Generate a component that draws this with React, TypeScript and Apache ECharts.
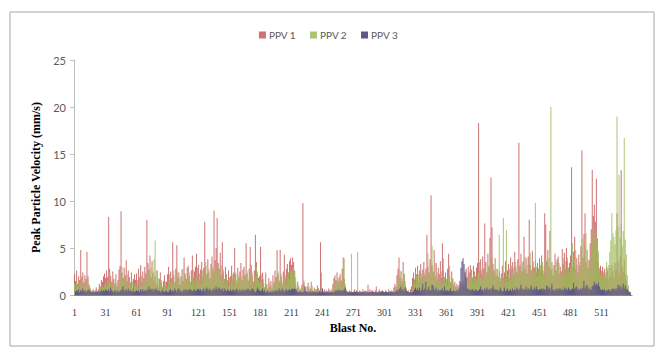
import React, { useEffect, useRef } from "react";
import * as echarts from "echarts";

const seriesNames = ["PPV 1", "PPV 2", "PPV 3"];
const yTicks = { min: 0, max: 25, interval: 5 };
const blastCount = 540;

// PPV 1 (mm/s), blasts 1..540, 30 per row
const ppv1 = [
  1.8,2.2,1.5,2.6,1.2,2.0,1.6,4.8,1.9,2.4,1.3,2.1,1.7,4.6,2.0,1.1,0.8,0.5,0.4,0.6,0.3,0.5,0.8,0.4,0.6,1.2,0.9,1.6,1.4,2.0,
  2.3,1.8,2.6,1.9,8.3,2.8,2.0,1.4,2.5,1.7,1.2,2.2,0.9,1.6,2.7,3.1,8.9,2.4,1.8,2.9,2.1,3.7,1.5,2.6,1.9,1.3,2.4,0.8,1.7,2.2,
  1.6,2.3,1.1,2.8,1.9,3.2,1.4,2.5,1.8,3.0,2.2,8.0,3.4,2.7,4.2,1.9,3.6,2.3,1.5,2.0,1.2,2.6,0.9,1.7,2.4,1.3,0.8,1.5,2.1,1.0,
  1.4,2.2,3.0,1.6,2.5,1.8,5.6,2.1,1.3,2.8,5.3,1.9,2.4,1.1,2.0,2.7,1.5,4.0,2.3,1.7,2.9,3.1,2.0,1.4,2.6,4.2,1.8,2.5,3.0,4.4,
  2.1,3.2,1.6,2.7,3.5,2.0,2.9,7.8,3.1,2.2,3.8,2.5,1.8,3.3,4.1,2.6,9.0,3.7,5.0,8.2,3.4,2.8,4.5,2.1,5.6,2.4,1.7,3.0,2.2,1.5,
  2.6,1.4,2.0,3.1,1.7,2.4,5.0,2.2,1.3,2.9,1.8,2.5,3.4,1.6,2.7,3.0,2.1,5.5,2.3,1.5,2.8,5.1,3.2,2.0,1.4,2.6,6.4,3.5,2.2,1.8,
  2.0,5.1,1.6,2.4,1.2,0.8,2.4,1.1,0.6,1.8,0.9,1.5,0.7,2.1,1.3,2.6,1.9,4.8,2.2,1.4,4.8,2.0,1.1,2.5,4.3,1.7,2.8,3.3,2.4,3.6,
  3.9,3.2,4.0,3.5,2.6,1.2,0.6,1.4,0.8,0.5,0.7,1.1,9.8,1.3,0.6,0.4,0.9,1.3,0.5,0.7,1.4,0.6,0.4,0.8,0.5,0.6,1.0,0.7,0.5,5.6,
  0.8,0.5,0.4,0.6,0.3,0.5,0.4,0.7,0.5,0.4,0.6,1.2,1.8,2.1,1.6,2.4,1.4,1.9,2.2,1.5,2.8,4.0,1.7,0.9,0.5,0.4,0.3,0.5,0.4,0.3,
  0.3,0.4,0.6,0.3,0.5,0.4,0.3,0.5,0.4,0.3,0.6,0.4,0.3,0.5,0.4,1.1,0.4,0.6,0.3,0.5,0.4,0.3,0.5,0.9,0.3,0.4,0.6,0.3,0.4,0.5,
  0.4,0.3,0.5,0.4,0.3,0.6,0.4,0.3,0.5,0.4,0.8,1.2,0.9,2.1,2.8,4.0,1.8,2.5,1.4,3.5,2.2,1.1,0.6,0.4,0.5,0.3,0.6,0.9,1.8,2.4,
  1.6,2.9,2.2,3.1,1.4,2.6,3.3,1.9,2.7,3.5,2.1,2.8,6.4,3.0,2.4,3.8,10.6,3.2,2.5,4.8,2.0,3.4,1.7,2.9,2.2,3.6,1.8,5.5,2.6,1.9,
  2.4,1.5,2.8,4.4,2.0,1.3,2.5,1.7,1.0,1.4,0.8,1.2,0.9,1.1,0.7,1.3,0.9,1.5,1.0,2.2,2.8,1.9,3.0,2.4,3.2,2.7,1.8,3.1,2.5,2.0,
  2.9,3.4,18.3,2.6,3.8,2.2,4.1,2.8,7.6,3.5,2.4,4.4,3.0,6.1,12.5,7.2,3.3,2.6,3.9,2.1,2.8,1.9,2.6,1.5,2.3,3.1,1.8,2.4,3.6,2.0,
  2.6,3.3,1.9,4.0,2.7,3.5,2.2,4.6,3.0,2.4,3.8,16.2,3.1,4.4,2.5,3.6,6.2,2.8,3.9,2.3,4.1,8.0,3.2,2.6,4.7,3.0,2.9,3.7,2.4,3.4,
  2.8,3.9,2.5,4.2,3.1,2.2,8.7,7.5,3.6,4.8,3.0,6.8,2.7,3.5,2.1,3.2,4.4,2.6,3.8,4.1,2.3,3.0,2.5,4.9,3.3,4.5,2.7,5.0,3.6,2.9,
  3.4,4.2,13.6,3.0,4.6,6.2,2.8,3.9,2.4,4.3,3.1,5.2,15.4,4.0,6.5,8.7,3.5,4.8,2.9,3.7,5.5,7.0,13.3,8.4,9.6,7.8,12.4,6.0,3.5,2.6,
  3.1,2.4,3.0,2.2,2.8,1.9,3.0,2.5,1.7,2.9,2.0,3.2,2.6,1.8,3.4,2.7,8.7,3.6,2.3,4.1,13.3,3.0,2.5,3.8,2.2,1.5,0.8,0.5,0,0,
];

// PPV 2 (mm/s)
const ppv2 = [
  1.2,0.8,1.5,0.9,1.1,0.7,1.3,2.0,0.9,1.4,0.6,1.0,0.8,1.7,1.1,0.5,0.4,0.3,0.4,0.3,0.5,0.4,0.3,0.6,0.4,0.7,0.5,0.9,0.8,1.1,
  1.4,0.9,1.6,1.2,2.4,1.5,1.0,0.8,1.7,1.1,0.7,1.3,0.6,1.0,1.8,2.0,3.0,1.4,1.1,1.9,1.3,2.2,0.9,1.6,1.2,0.8,1.5,0.5,1.0,1.3,
  1.0,1.6,0.7,1.9,1.2,2.1,0.9,1.7,1.2,2.4,1.5,3.2,2.2,1.8,2.9,1.3,2.5,3.8,5.8,2.6,1.1,1.8,0.6,1.2,1.6,0.9,0.5,1.0,1.4,0.7,
  0.9,1.5,2.2,1.1,1.8,1.2,2.6,1.4,0.9,2.0,2.5,1.3,1.7,0.8,1.4,2.8,1.0,2.2,1.6,1.2,2.1,2.4,1.4,1.0,1.8,2.7,1.3,1.7,2.2,2.9,
  1.5,2.3,1.1,1.9,2.6,1.4,2.0,3.5,2.2,1.6,2.8,1.8,1.2,2.4,3.0,1.9,3.2,2.6,2.1,3.0,2.4,2.0,3.2,1.5,2.7,1.7,1.2,2.1,1.6,1.0,
  1.9,1.0,1.4,2.2,1.2,1.7,2.4,1.6,0.9,2.1,1.3,1.8,2.0,1.1,1.9,2.2,1.5,2.6,1.7,1.1,2.0,2.3,2.4,1.4,1.0,1.9,3.0,2.5,1.6,1.3,
  1.4,2.2,1.1,1.7,0.8,0.6,1.2,0.7,0.4,1.3,0.6,1.1,0.5,1.5,0.9,1.9,1.4,2.5,1.6,1.0,2.3,1.4,0.8,1.8,2.1,1.2,2.0,2.4,1.7,2.6,
  2.8,2.3,2.9,2.5,1.9,0.8,0.4,1.0,0.5,0.3,0.5,0.8,1.6,0.9,0.4,0.3,0.6,0.9,0.3,0.5,1.0,0.4,0.3,0.6,0.3,0.4,0.7,0.5,0.3,2.4,
  0.5,0.3,0.3,0.4,0.2,0.3,0.3,0.5,0.3,0.3,0.4,0.8,1.3,1.5,1.1,1.7,1.0,1.4,1.6,1.1,2.0,3.9,1.2,0.6,0.3,0.3,0.2,0.3,4.4,0.2,
  0.2,0.3,0.4,0.2,4.6,0.3,0.2,0.3,0.3,0.2,0.4,0.3,0.2,0.3,0.3,0.2,0.3,0.4,0.2,0.3,0.3,0.2,0.3,0.3,0.2,0.3,0.4,0.2,0.3,0.3,
  0.3,0.2,0.3,0.3,0.2,0.4,0.3,0.2,0.3,0.3,0.5,0.8,0.6,1.4,1.9,2.6,1.2,1.7,1.0,2.3,1.5,0.8,0.4,0.3,0.3,0.2,0.4,0.6,1.2,1.7,
  1.1,2.0,1.5,2.2,1.0,1.8,2.3,1.3,1.9,2.4,1.4,2.0,4.5,2.1,1.7,2.7,5.2,2.2,1.8,3.4,1.4,2.4,1.2,2.0,1.5,2.5,1.2,3.9,1.8,1.3,
  1.7,1.0,2.0,3.1,1.4,0.9,1.8,1.2,0.7,1.0,0.6,0.8,0.6,0.8,0.5,0.9,0.6,1.0,0.7,1.6,2.0,1.3,2.1,1.7,2.3,1.9,1.2,2.2,1.8,1.4,
  2.0,2.4,3.5,1.8,2.7,1.5,2.9,2.0,3.3,2.5,1.7,3.1,2.1,3.0,4.0,2.6,2.3,1.8,2.8,1.5,2.0,6.4,1.8,1.1,1.6,8.2,1.3,1.7,6.9,1.4,
  2.2,2.8,1.6,3.1,2.3,2.9,1.8,3.5,2.5,2.0,3.0,2.6,2.4,3.4,2.0,2.8,4.1,2.3,3.2,1.9,3.3,4.5,2.6,2.1,3.6,2.4,9.8,3.0,2.0,2.8,
  2.4,3.2,2.0,3.5,2.6,1.8,4.2,3.6,3.0,3.9,2.5,20.0,2.2,2.9,1.7,2.6,3.5,2.1,3.1,3.4,1.9,2.5,2.0,3.9,2.7,3.6,2.2,4.0,2.9,2.4,
  2.8,3.4,5.5,2.5,3.7,4.8,2.3,3.2,2.0,3.5,2.6,4.1,6.0,3.2,5.1,6.6,2.9,3.8,2.4,3.0,4.3,5.4,7.2,6.3,7.0,6.1,5.8,4.7,2.9,2.2,
  2.6,2.0,2.5,1.8,2.4,3.5,2.8,3.2,4.6,5.8,8.7,6.6,6.2,5.4,6.9,19.0,7.3,12.8,6.1,7.5,5.2,6.8,16.7,5.9,4.3,2.1,1.0,0.4,0,0,
];

// PPV 3 (mm/s)
const ppv3 = [
  0.4,0.5,0.4,0.6,0.3,0.5,0.4,0.7,0.4,0.5,0.3,0.4,0.5,0.6,0.4,0.3,0.3,0.4,0.3,0.3,0.4,0.3,0.4,0.3,0.4,0.5,0.4,0.5,0.4,0.6,
  0.5,0.4,0.6,0.4,0.8,0.5,0.4,0.3,0.5,0.4,0.3,0.5,0.3,0.4,0.5,0.6,0.9,0.5,0.4,0.6,0.4,0.7,0.4,0.5,0.4,0.3,0.5,0.3,0.4,0.5,
  0.4,0.5,0.3,0.6,0.4,0.6,0.4,0.5,0.4,0.6,0.5,0.9,0.6,0.5,0.7,0.4,0.6,0.5,0.7,0.5,0.4,0.5,0.3,0.4,0.5,0.4,0.3,0.4,0.5,0.3,
  0.3,0.5,0.6,0.4,0.5,0.4,0.7,0.5,0.3,0.6,0.7,0.4,0.5,0.3,0.4,0.6,0.4,0.6,0.5,0.4,0.6,0.6,0.5,0.4,0.5,0.6,0.4,0.5,0.6,0.7,
  0.5,0.6,0.4,0.5,0.7,0.4,0.6,0.8,0.6,0.5,0.7,0.5,0.4,0.6,0.7,0.5,0.9,0.6,0.7,0.8,0.6,0.5,0.7,0.4,0.7,0.5,0.4,0.6,0.5,0.4,
  0.6,0.4,0.5,0.6,0.4,0.5,0.7,0.5,0.3,0.6,0.4,0.5,0.6,0.4,0.5,0.6,0.5,0.7,0.5,0.4,0.6,0.7,0.6,0.4,0.3,0.5,0.8,0.6,0.5,0.4,
  0.5,0.7,0.4,0.5,0.3,0.3,0.5,0.3,0.3,0.4,0.3,0.4,0.3,0.5,0.4,0.5,0.4,0.7,0.5,0.4,0.7,0.5,0.3,0.5,0.6,0.4,0.5,0.6,0.5,0.6,
  0.7,0.6,0.7,0.6,0.5,0.3,0.3,0.4,0.3,0.3,0.3,0.4,0.9,0.4,0.3,0.3,0.3,0.4,0.3,0.3,0.4,0.3,0.3,0.3,0.3,0.3,0.4,0.3,0.3,0.7,
  0.3,0.3,0.3,0.3,0.3,0.3,0.3,0.3,0.3,0.3,0.3,0.4,0.5,0.5,0.4,0.6,0.4,0.5,0.5,0.4,0.6,0.8,0.4,0.3,0.3,0.3,0.3,0.3,0.3,0.3,
  0.3,0.3,0.4,0.3,0.3,0.3,0.3,0.3,0.3,0.3,0.4,0.3,0.3,0.3,0.3,0.3,0.3,0.4,0.3,0.3,0.3,0.3,0.3,0.3,0.3,0.3,0.4,0.3,0.3,0.3,
  0.3,0.3,0.3,0.3,0.3,0.4,0.3,0.3,0.3,0.3,0.4,0.5,0.4,0.6,0.7,0.9,0.5,0.6,0.4,0.8,0.5,0.4,0.3,0.3,0.3,0.3,0.3,0.4,0.6,0.8,
  0.5,0.7,0.5,0.8,0.4,0.6,1.2,0.5,0.7,1.4,0.5,0.6,0.9,0.5,0.5,1.1,1.0,0.6,0.5,0.8,0.4,0.6,0.4,0.5,0.5,0.7,0.4,0.9,0.5,0.4,
  0.5,0.4,0.5,0.7,0.4,0.4,0.5,0.4,0.4,0.5,0.4,0.6,1.5,2.9,3.6,3.9,3.3,2.5,1.8,0.7,0.6,0.5,0.6,0.5,0.6,0.5,0.4,0.6,0.5,0.4,
  0.5,0.6,0.9,0.5,0.6,0.4,0.7,0.5,0.8,0.6,0.5,0.7,0.5,0.7,1.0,0.6,0.6,0.5,0.6,0.4,0.5,0.8,0.5,0.4,0.4,0.8,0.4,0.5,0.7,0.4,
  0.5,0.6,0.4,0.7,0.5,0.6,0.5,0.8,0.6,0.5,0.7,1.1,0.6,0.7,0.5,0.6,0.9,0.5,0.7,0.5,0.7,1.0,0.6,0.5,0.8,0.6,0.9,0.6,0.5,0.6,
  0.6,0.7,0.5,0.7,0.6,0.5,1.0,0.9,0.6,0.8,0.5,1.2,0.5,0.6,0.4,0.6,0.7,0.5,0.7,0.7,0.5,0.6,0.5,0.8,0.6,0.7,0.5,0.8,0.6,0.5,
  0.6,0.7,1.3,0.6,0.8,0.9,0.5,0.7,0.5,0.7,0.6,0.8,1.5,0.7,0.9,1.1,0.6,0.8,0.5,0.6,0.9,1.0,1.4,1.1,1.2,1.0,1.3,0.9,0.6,0.5,
  0.6,0.5,0.6,0.4,0.5,0.5,0.6,0.5,0.4,0.6,0.7,0.6,0.7,0.5,0.7,1.1,0.8,1.0,0.6,0.8,1.2,0.7,1.0,0.6,0.6,0.4,0.3,0.3,0,0,
];

const colors = ["#C0504D", "#9BBB59", "#5E5688"];
const barOpacity = [0.8, 0.85, 1];

export default function App() {
  const ref = useRef<HTMLDivElement>(null);
  useEffect(() => {
    if (!ref.current) return;
    const chart = echarts.init(ref.current, undefined, { renderer: "svg" });
    const blastNo = Array.from({ length: blastCount }, (_, i) => String(i + 1));
    const dataSets = [ppv1, ppv2, ppv3];
    chart.setOption({
      animation: false,
      color: colors,
      grid: { left: 74, right: 25, top: 60, bottom: 59 },
      legend: {
        top: 25,
        left: "center",
        icon: "rect",
        itemWidth: 7,
        itemHeight: 7,
        itemGap: 14,
        textStyle: { fontFamily: "Lato", fontSize: 10, color: "#595959", padding: [0, 0, 0, -2] },
        data: seriesNames,
      },
      xAxis: {
        type: "category",
        data: blastNo,
        name: "Blast No.",
        nameLocation: "middle",
        nameGap: 23,
        nameTextStyle: { fontFamily: "Liberation Serif", fontWeight: "bold", fontSize: 12, color: "#000" },
        axisLine: { lineStyle: { color: "#868686" } },
        axisTick: { show: false },
        axisLabel: { interval: 29, fontSize: 10, color: "#404040", margin: 12, fontFamily: "Liberation Serif" },
        splitLine: { show: false },
      },
      yAxis: {
        type: "value",
        min: yTicks.min,
        max: yTicks.max,
        interval: yTicks.interval,
        name: "Peak Particle Velocity (mm/s)",
        nameLocation: "middle",
        nameGap: 32,
        nameTextStyle: { fontFamily: "Liberation Serif", fontWeight: "bold", fontSize: 12, color: "#000" },
        axisLine: { show: true, lineStyle: { color: "#BFBFBF" } },
        axisTick: { show: true, length: 4, lineStyle: { color: "#BFBFBF" } },
        splitLine: { show: false },
        axisLabel: { fontSize: 11, color: "#595959", margin: 8, fontFamily: "Lato" },
      },
      graphic: [
        {
          type: "rect",
          shape: { x: 10, y: 12, width: 644, height: 334 },
          style: { fill: "none", stroke: "#A6A6A6", lineWidth: 1 },
          silent: true,
        },
      ],
      series: seriesNames.map((name, i) => ({
        name,
        type: "bar",
        data: dataSets[i],
        barCategoryGap: "0%",
        barGap: "0%",
        itemStyle: { color: colors[i], opacity: barOpacity[i] },
      })),
    });
    return () => chart.dispose();
  }, []);
  return <div ref={ref} style={{ position: "absolute", left: 0, top: 0, width: 657, height: 354 }} />;
}
